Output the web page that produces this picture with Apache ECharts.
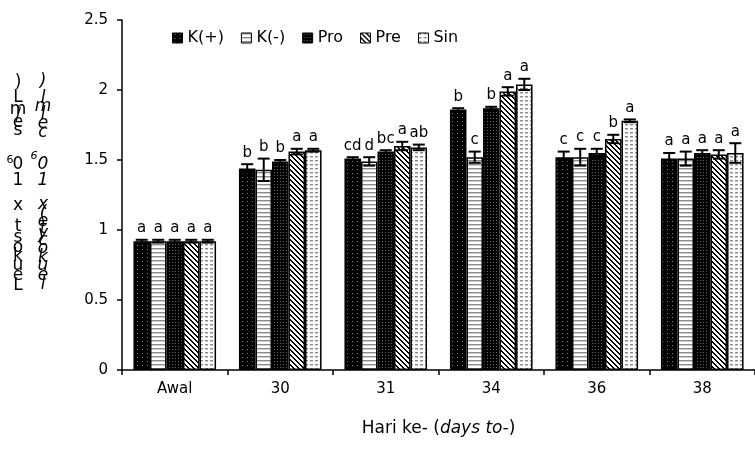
<!DOCTYPE html>
<html><head><meta charset="utf-8">
<script src="https://cdn.jsdelivr.net/npm/echarts@6/dist/echarts.min.js"></script>
<style>html,body{margin:0;padding:0;background:#fff}#c{width:755px;height:466px}</style>
</head><body><div id="c"></div>
<script>
const categories = ['Awal','30','31','34','36','38'];
const seriesNames = ['K(+)','K(-)','Pro','Pre','Sin'];
const valKplus  = [0.92,1.44,1.51,1.86,1.52,1.51];
const valKminus = [0.92,1.43,1.49,1.52,1.52,1.51];
const valPro    = [0.92,1.49,1.56,1.87,1.55,1.55];
const valPre    = [0.92,1.56,1.60,1.99,1.65,1.54];
const valSin    = [0.92,1.57,1.59,2.04,1.78,1.55];
const errKplus  = [0.01,0.03,0.01,0.01,0.04,0.04];
const errKminus = [0.01,0.08,0.03,0.04,0.06,0.05];
const errPro    = [0.01,0.01,0.01,0.01,0.03,0.02];
const errPre    = [0.01,0.02,0.03,0.03,0.03,0.03];
const errSin    = [0.01,0.01,0.02,0.04,0.01,0.07];
const letKplus  = ['a','b','cd','b','c','a'];
const letKminus = ['a','b','d','c','c','a'];
const letPro    = ['a','b','bc','b','c','a'];
const letPre    = ['a','a','a','a','b','a'];
const letSin    = ['a','a','ab','a','a','a'];
const yTicks = ['0','0.5','1','1.5','2','2.5'];

const FONT = 'DejaVu Sans';
const values = [valKplus,valKminus,valPro,valPre,valSin];
const errs = [errKplus,errKminus,errPro,errPre,errSin];
const letters = [letKplus,letKminus,letPro,letPre,letSin];

function tile(w,h,draw){const c=document.createElement('canvas');c.width=w;c.height=h;const g=c.getContext('2d');draw(g,w,h);return c;}
const patterns = [
  tile(5,4,(g,w,h)=>{g.fillStyle='#000';g.fillRect(0,0,w,h);g.fillStyle='#808080';g.fillRect(2,1,1,1);}),
  tile(2,4,(g,w,h)=>{g.fillStyle='#fff';g.fillRect(0,0,w,h);g.fillStyle='#8c8c8c';g.fillRect(0,0,w,1);g.fillStyle='#cfcfcf';g.fillRect(0,1,w,1);}),
  tile(3,3,(g,w,h)=>{g.fillStyle='#000';g.fillRect(0,0,w,h);g.fillStyle='#6a6a6a';g.fillRect(1,1,1,1);}),
  tile(5,5,(g,w,h)=>{g.fillStyle='#fff';g.fillRect(0,0,w,h);g.fillStyle='#000';for(let y=0;y<h;y++){for(let k=0;k<2;k++){g.fillRect((y+k)%w,y,1,1);}}}),
  tile(5,4,(g,w,h)=>{g.fillStyle='#fff';g.fillRect(0,0,w,h);g.fillStyle='#8a8a8a';g.fillRect(0,0,3,1);g.fillStyle='#cccccc';g.fillRect(0,1,3,1);})
];

const BARFRAC = 0.1566;
const series = [];
seriesNames.forEach((name,i)=>{
  series.push({
    name:name,type:'bar',data:values[i],barWidth:(BARFRAC*100)+'%',barGap:'0%',
    itemStyle:{color:{image:patterns[i],repeat:'repeat'},borderColor:'#000',borderWidth:1.5},
    z:2
  });
});
seriesNames.forEach((name,i)=>{
  series.push({
    type:'custom',name:name+'_err',z:5,silent:true,
    data:values[i].map((v,j)=>[j,v,errs[i][j]]),
    renderItem:function(params,api){
      const j=api.value(0),v=api.value(1),e=api.value(2);
      const band=api.size([1,0])[0];
      const bw=band*BARFRAC;
      const cx=api.coord([j,v])[0]+(i-2)*bw;
      const yTop=api.coord([j,v+e])[1];
      const yBot=api.coord([j,v-e])[1];
      const hw=6;
      const ls={stroke:'#000',lineWidth:2};
      return {type:'group',children:[
        {type:'line',shape:{x1:cx,y1:yTop,x2:cx,y2:yBot},style:ls},
        {type:'line',shape:{x1:cx-hw,y1:yTop,x2:cx+hw,y2:yTop},style:ls},
        {type:'line',shape:{x1:cx-hw,y1:yBot,x2:cx+hw,y2:yBot},style:ls},
        {type:'text',style:{text:letters[i][j],x:cx,y:yTop-4,align:'center',verticalAlign:'bottom',fontSize:15,fontFamily:FONT,fill:'#000'}}
      ]};
    }
  });
});

const leftCol = [[')',83],['L',98],['m',110],['/',116],['e',123],['s',131],['0',165],['1',181],['x',206],['t',227],['s',238],['o',248],['k',257],['u',266],['e',276],['L',286]];
const rightCol = [[')',82],['l',99],['m',107],['l',115],['e',124],['c',133],['0',165],['1',181],['x',205],['(',214],['e',222],['t',229],['y',234],['c',241],['o',249],['k',258],['u',266],['e',276],['l',285]];
const graphics = [];
leftCol.forEach(([ch,y])=>graphics.push({type:'text',style:{text:ch,x:18,y:y,align:'center',verticalAlign:'middle',fontSize:17,fontFamily:FONT,fill:'#000'}}));
rightCol.forEach(([ch,y])=>graphics.push({type:'text',style:{text:ch,x:43,y:y,align:'center',verticalAlign:'middle',fontSize:17,fontStyle:'italic',fontFamily:FONT,fill:'#000'}}));
graphics.push({type:'text',style:{text:'6',x:10,y:160,align:'center',verticalAlign:'middle',fontSize:11,fontFamily:FONT,fill:'#000'}});
graphics.push({type:'text',style:{text:'6',x:34,y:156,align:'center',verticalAlign:'middle',fontSize:11,fontStyle:'italic',fontFamily:FONT,fill:'#000'}});

const chart = echarts.init(document.getElementById('c'),null,{renderer:'canvas'});
chart.setOption({
  animation:false,
  backgroundColor:'#fff',
  textStyle:{fontFamily:FONT},
  grid:{left:122,top:20,width:636,height:350,containLabel:false},
  legend:{
    data:seriesNames,left:167,top:25,icon:'rect',itemWidth:10,itemHeight:10,itemGap:17,
    textStyle:{fontSize:16,fontFamily:FONT,color:'#000'},
    itemStyle:{borderColor:'#000',borderWidth:1}
  },
  xAxis:{
    type:'category',data:categories,
    axisLine:{lineStyle:{color:'#000',width:1.5}},
    axisTick:{show:true,length:5,lineStyle:{color:'#000',width:1.5}},
    axisLabel:{color:'#000',fontSize:15,fontFamily:FONT,margin:12},
    name:'{n|Hari ke- (}{i|days to-}{n|)}',nameLocation:'middle',nameGap:50,
    nameTextStyle:{rich:{n:{fontSize:17,fontFamily:FONT,color:'#000'},i:{fontSize:17,fontFamily:FONT,fontStyle:'italic',color:'#000'}}}
  },
  yAxis:{
    type:'value',min:0,max:2.5,interval:0.5,
    axisLine:{show:true,lineStyle:{color:'#000',width:1.5}},
    axisTick:{show:true,length:5,lineStyle:{color:'#000',width:1.5}},
    splitLine:{show:false},
    axisLabel:{color:'#000',fontSize:15,fontFamily:FONT,margin:14,formatter:(v)=>yTicks[Math.round(v/0.5)]}
  },
  graphic:graphics,
  series:series
});
</script></body></html>
